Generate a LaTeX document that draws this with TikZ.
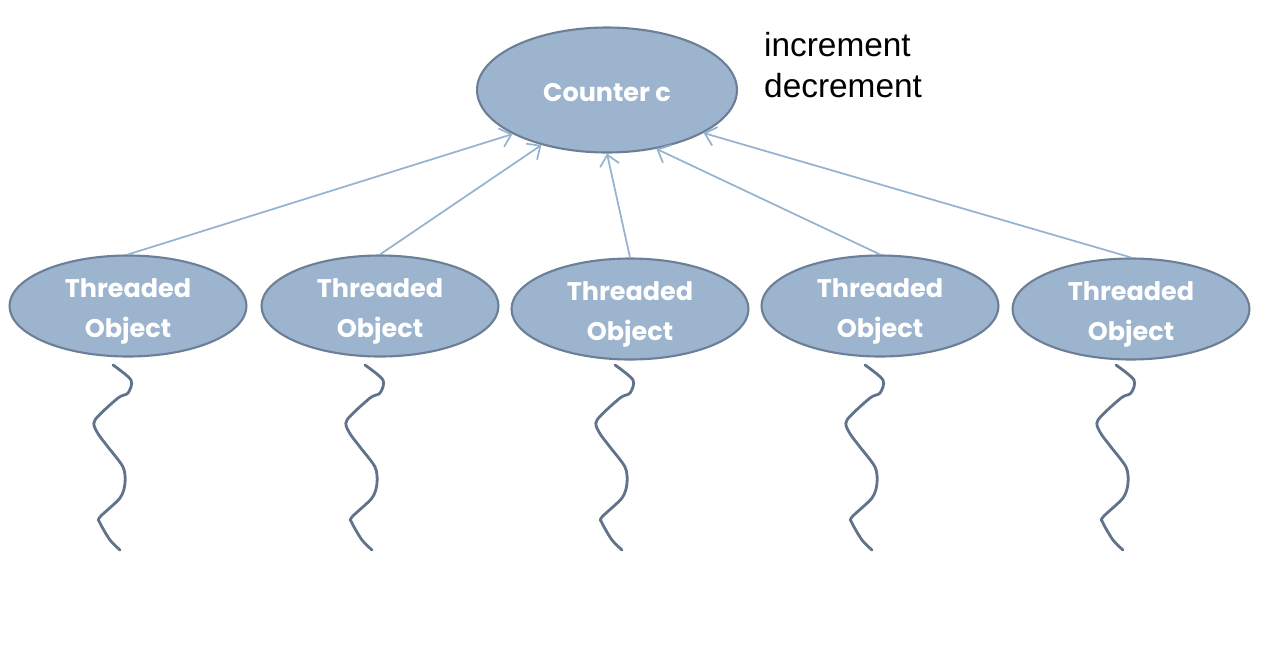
\documentclass[tikz,border=0pt]{standalone}
\usepackage{fontspec}
\setmainfont{Liberation Sans}
\newfontfamily\objfont{Poppins}
\usetikzlibrary{shapes.geometric,arrows.meta}
\definecolor{objfill}{RGB}{157,180,206}
\definecolor{objedge}{RGB}{107,127,150}
\definecolor{linkblue}{RGB}{150,180,208}
\definecolor{threadgray}{RGB}{96,115,138}
\tikzset{obj/.style={ellipse, fill=objfill, draw=objedge, line width=1.2pt, inner sep=0pt, text=white, font=\objfont\bfseries\fontsize{14.5}{23}\selectfont, align=center},
  link/.style={linkblue, line width=1pt, -{Straight Barb[length=6pt,width=11pt]}},
  threadline/.style={threadgray, line width=1.6pt, line cap=round}}

\begin{document}
\begin{tikzpicture}[x=0.02cm,y=-0.02cm]
  \useasboundingbox (0,0) rectangle (1268,650);
  \node[obj, minimum width=5.2cm, minimum height=2.5cm, text height=13.6pt, text depth=0pt] (counter) at (607,90) {Counter c};
  \node[anchor=base west, align=left, font=\fontsize{19}{23.3}\selectfont] (ops) at (758,97) {increment\\decrement};
  % the five threads
  \foreach \i/\x/\y in {1/128/306, 2/380/306, 3/630/309, 4/880/306, 5/1131/309} {
    \node[obj, minimum width=4.74cm, minimum height=2.02cm, text height=36.3pt, text depth=0pt] (obj\i) at (\x,\y) {Threaded\\Object};
    \draw[threadline, shift={(\x,0)}] plot[smooth] coordinates {(-15,365) (3,380) (0,393) (-10,398) (-33,420) (-31,432) (-20,447) (-5,467) (-3,483) (-8,498) (-28,517) (-28,523) (-18,540) (-8,550)};
  }
  \foreach \i/\a in {1/205,2/220,3/270,4/310,5/336}
    \draw[link] (obj\i.north) -- (counter.\a);
\end{tikzpicture}
\end{document}
